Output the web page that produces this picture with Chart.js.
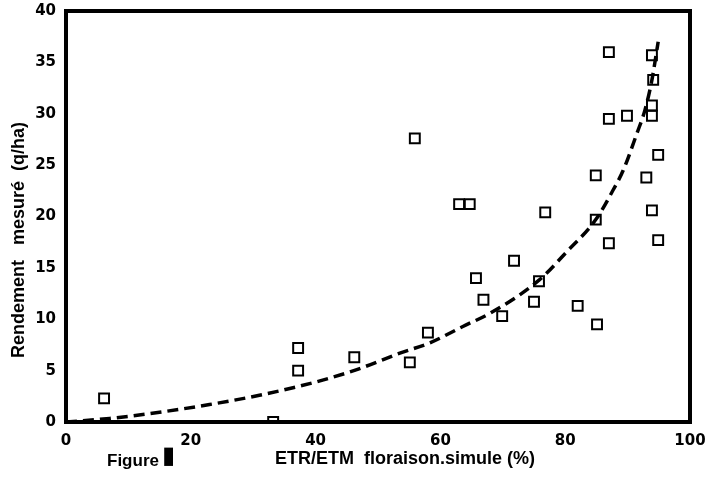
<!DOCTYPE html>
<html>
<head>
<meta charset="utf-8">
<script src="https://cdn.jsdelivr.net/npm/chart.js@4.4.1/dist/chart.umd.min.js"></script>
<style>
  body { margin: 0; background: #fff; }
  #wrap { width: 708px; height: 479px; position: relative; }
</style>
</head>
<body>
<div id="wrap"><canvas id="myChart"></canvas></div>
<script>
// measured points (ETR/ETM %, rendement q/ha)
const obsX = [6.1, 33.2, 37.2, 37.2, 46.2, 55.1, 55.9, 58.0, 63.0, 64.7, 65.7, 66.9, 69.9, 71.8, 75.0, 75.8, 76.8,
  82.0, 84.9, 84.9, 85.1, 87.0, 87.0, 87.0, 89.9, 93.0, 93.9, 93.9, 93.9, 93.9, 94.1, 94.9, 94.9];
const obsY = [2.3, 0, 7.2, 5.0, 6.3, 5.8, 27.6, 8.7, 21.2, 21.2, 14.0, 11.9, 10.3, 15.7, 11.7, 13.7, 20.4,
  11.3, 24.0, 19.7, 9.5, 36.0, 29.5, 17.4, 29.8, 23.8, 35.7, 30.8, 29.8, 20.6, 33.3, 26.0, 17.7];

// dashed fitted curve
const fitX = [0, 7, 15, 23, 31, 37.5, 40.7, 46.6, 53.5, 58.3, 63.6, 68, 75.8, 80.3, 84.9, 87.7, 89.3, 91.5, 92.8, 93.9, 94.9];
const fitY = [0, 0.35, 0.95, 1.7, 2.6, 3.5, 4.0, 5.1, 6.7, 7.7, 9.3, 10.6, 13.8, 16.6, 19.7, 22.6, 24.5, 28.1, 30.4, 33.3, 37.0];

const xTicks = [0, 20, 40, 60, 80, 100];
const yTicks = [0, 5, 10, 15, 20, 25, 30, 35, 40];

const labels = {
  y: 'Rendement   mesuré  (q/ha)',
  x: 'ETR/ETM  floraison.simule (%)',
  fig: 'Figure'
};

// frame + texts
const frame = {
  id: 'frame',
  beforeDatasetsDraw(chart) {
    const { ctx, chartArea: a } = chart;
    ctx.save();
    ctx.strokeStyle = '#000';
    ctx.lineWidth = 4;
    ctx.strokeRect(a.left, a.top, a.right - a.left, a.bottom - a.top);
    ctx.restore();
  },
  afterDraw(chart) {
    const { ctx } = chart;
    ctx.save();
    ctx.fillStyle = '#000';
    ctx.textBaseline = 'middle';
    // y title
    ctx.translate(19, 240);
    ctx.rotate(-Math.PI / 2);
    ctx.textAlign = 'center';
    ctx.font = 'bold 18px "Liberation Sans", Arial, sans-serif';
    ctx.fillText(labels.y, 0, 0);
    ctx.restore();

    ctx.save();
    ctx.fillStyle = '#000';
    ctx.textBaseline = 'middle';
    ctx.font = 'bold 18px "Liberation Sans", Arial, sans-serif';
    ctx.textAlign = 'center';
    ctx.fillText(labels.x, 405, 459);
    ctx.font = 'bold 17px "Liberation Sans", Arial, sans-serif';
    ctx.textAlign = 'left';
    ctx.fillText(labels.fig, 107, 461);
    ctx.font = 'bold 24px "DejaVu Sans", sans-serif';
    ctx.fillText('\u25AE', 162, 457);
    ctx.restore();
  }
};

const data = {
  datasets: [{
    type: 'scatter',
    label: 'mesures',
    data: obsX.map((x, i) => ({ x, y: obsY[i] })),
    pointStyle: 'rect',
    pointRadius: 7,
    borderColor: '#000',
    borderWidth: 2,
    backgroundColor: 'rgba(255,255,255,0)',
    order: 1
  }, {
    type: 'line',
    label: 'ajustement',
    data: fitX.map((x, i) => ({ x, y: fitY[i] })),
    borderColor: '#000',
    borderWidth: 3.5,
    borderDash: [11, 6],
    pointRadius: 0,
    fill: false,
    cubicInterpolationMode: 'monotone',
    order: 2
  }]
};

const tickFont = { family: '"DejaVu Sans", sans-serif', size: 15, weight: 'bold' };

const config = {
  type: 'scatter',
  data,
  options: {
    responsive: true,
    maintainAspectRatio: false,
    animation: false,
    layout: { padding: { top: 4, right: 18, left: 0, bottom: 0 } },
    plugins: { legend: { display: false }, tooltip: { enabled: false } },
    scales: {
      x: {
        type: 'linear', min: 0, max: 100,
        afterBuildTicks: s => { s.ticks = xTicks.map(v => ({ value: v })); },
        afterFit: s => { s.height = 57; },
        grid: { display: false },
        border: { display: false },
        ticks: { color: '#000', font: tickFont, padding: 2 }
      },
      y: {
        type: 'linear', min: 0, max: 40,
        afterBuildTicks: s => { s.ticks = yTicks.map(v => ({ value: v })); },
        afterFit: s => { s.width = 66; },
        grid: { display: false },
        border: { display: false },
        ticks: { color: '#000', font: tickFont, padding: 2 }
      }
    }
  },
  plugins: [frame]
};

const myChart = new Chart(document.getElementById('myChart'), config);
</script>
</body>
</html>
